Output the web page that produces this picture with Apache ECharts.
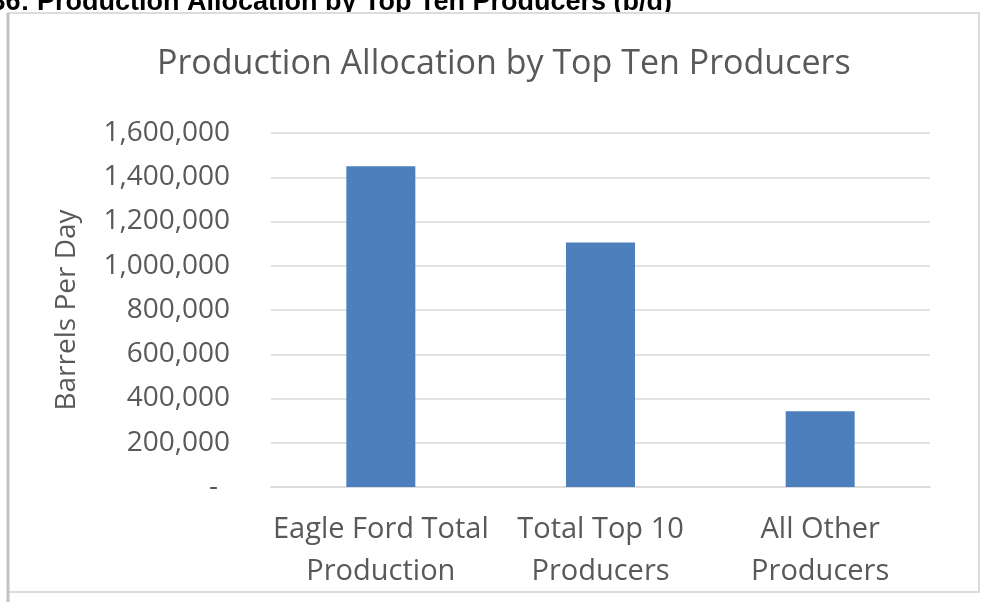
<!DOCTYPE html>
<html><head><meta charset="utf-8">
<script src="https://cdn.jsdelivr.net/npm/echarts@6/dist/echarts.min.js"></script>
<style>html,body{margin:0;padding:0;background:#fff}#c{width:983px;height:602px}</style>
</head><body><div id="c"></div>
<script>
const headerText = '36: Production Allocation by Top Ten Producers (b/d)';
const chartTitle = 'Production Allocation by Top Ten Producers';
const axisName = 'Barrels Per Day';
const categories = ['Eagle Ford Total\nProduction', 'Total Top 10\nProducers', 'All Other\nProducers'];
const values = [1450000, 1105000, 342000];
const yMin = 0, yMax = 1600000, yStep = 200000;

const FONT = '"Open Sans", sans-serif';
const GRAY = '#595959';
const chart = echarts.init(document.getElementById('c'), null, {renderer: 'canvas'});
chart.setOption({
  animation: false,
  backgroundColor: '#ffffff',
  textStyle: {fontFamily: FONT},
  title: {
    text: chartTitle, left: 157, top: 47, padding: 0,
    textStyle: {fontFamily: FONT, fontSize: 34, fontWeight: 'normal', color: GRAY}
  },
  graphic: [
    {type: 'text', z: -3, x: -9.5, y: 16, style: {text: headerText, fontFamily: 'Liberation Sans, Arial, sans-serif',
      fontWeight: 'bold', fontSize: 27, fill: '#000', verticalAlign: 'bottom'}},
    {type: 'rect', z: -2, shape: {x: 0, y: 12, width: 983, height: 590},
     style: {fill: '#ffffff', stroke: null}},
    {type: 'rect', z: -1, shape: {x: 8, y: 13, width: 971, height: 579},
     style: {fill: 'none', stroke: '#dcdcdc', lineWidth: 2}},
    {type: 'line', z: -1, shape: {x1: 8, y1: 13, x2: 8, y2: 602},
     style: {stroke: '#c4c4c4', lineWidth: 3}}
  ],
  grid: {left: 271, right: 53, top: 133, bottom: 115, containLabel: false},
  xAxis: {
    type: 'category', data: categories,
    axisLine: {lineStyle: {color: '#d9d9d9', width: 1.5}},
    axisTick: {show: false},
    axisLabel: {color: GRAY, fontSize: 29, lineHeight: 42, margin: 22, fontFamily: FONT, interval: 0}
  },
  yAxis: {
    type: 'value', min: yMin, max: yMax, interval: yStep,
    name: axisName, nameLocation: 'middle', nameRotate: 90, nameGap: 190,
    nameTextStyle: {color: GRAY, fontSize: 28, fontFamily: FONT},
    axisLine: {show: false}, axisTick: {show: false},
    splitLine: {lineStyle: {color: '#d9d9d9', width: 1.5}},
    axisLabel: {
      color: GRAY, fontSize: 28, margin: 41, fontFamily: FONT,
      formatter: v => v === 0 ? '{d|-}' : v.toLocaleString('en-US'),
      rich: {d: {color: GRAY, fontSize: 28, fontFamily: FONT, padding: [0, 12, 0, 0]}}
    }
  },
  series: [{
    type: 'bar', data: values, barWidth: 69,
    itemStyle: {color: '#4e7fbd'}
  }]
});
</script></body></html>
